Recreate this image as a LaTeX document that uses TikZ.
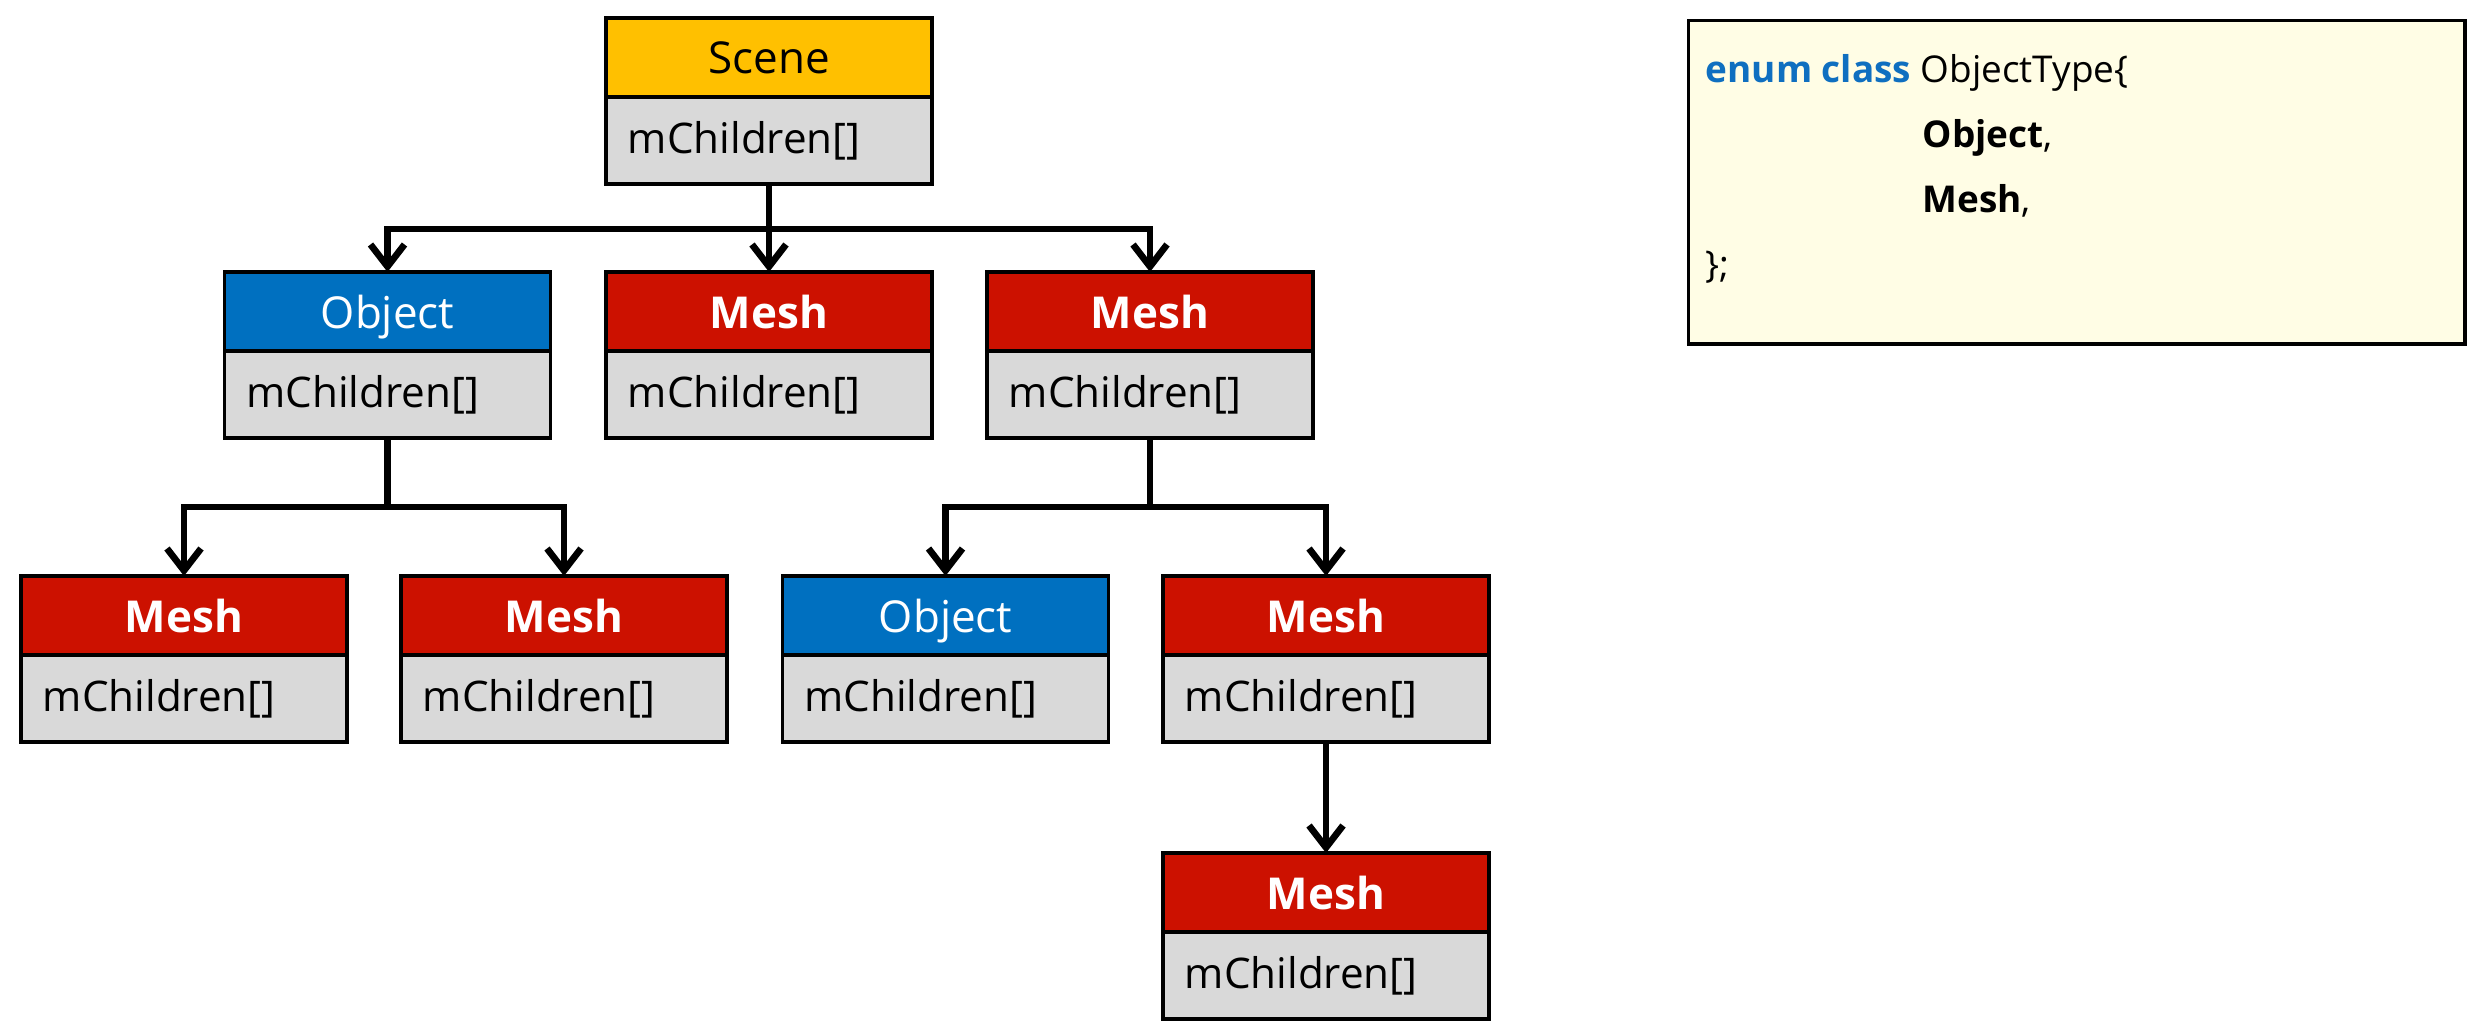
\documentclass[tikz,border=0pt]{standalone}
\usepackage{fontspec}
\setmainfont{Open Sans}
\usetikzlibrary{positioning,arrows.meta}

\definecolor{scenecol}{HTML}{FFC000}
\definecolor{objcol}{HTML}{0070C0}
\definecolor{meshcol}{HTML}{CC1100}
\definecolor{kidscol}{HTML}{D9D9D9}
\definecolor{notecol}{HTML}{FFFDE5}
\definecolor{keycol}{HTML}{0F6FC0}

\tikzset{
  head/.style={draw=black, line width=0.95pt, minimum width=3.26cm, minimum height=0.79cm,
    inner sep=0pt, outer sep=0pt, text depth=0pt, font=\fontsize{12.5}{15}\selectfont},
  scenehead/.style={head, fill=scenecol},
  objhead/.style={head, fill=objcol, text=white},
  meshhead/.style={head, fill=meshcol, text=white, font=\fontsize{12.5}{15}\selectfont\bfseries},
  kids/.style={draw=black, line width=0.95pt, fill=kidscol, text width=2.82cm, inner xsep=0.22cm,
    inner ysep=0pt, minimum height=0.87cm, align=left, outer sep=0pt, font=\fontsize{12}{14}\selectfont},
  link/.style={line width=1.9pt, -{Straight Barb[length=0.22cm,width=0.34cm]}},
  code/.style={anchor=base west, inner sep=0pt, font=\fontsize{10.5}{13}\selectfont},
}

\begin{document}
\begin{tikzpicture}[x=0.01cm, y=-0.01cm]
\useasboundingbox (0,0) rectangle (2470,1033);

% Root
\node[scenehead] (scene) at (769,57.5) {Scene};
\node[kids, below=0pt of scene] (scenekids) {mChildren[]};

% First level
\node[objhead] (obj1) at (387.5,311.5) {Object};
\node[kids, below=0pt of obj1] (obj1kids) {mChildren[]};

\node[meshhead] (mesh1) at (769,311.5) {Mesh};
\node[kids, below=0pt of mesh1] (mesh1kids) {mChildren[]};

\node[meshhead] (mesh2) at (1150,311.5) {Mesh};
\node[kids, below=0pt of mesh2] (mesh2kids) {mChildren[]};

% Second level
\node[meshhead] (mesh3) at (184,615.5) {Mesh};
\node[kids, below=0pt of mesh3] (mesh3kids) {mChildren[]};

\node[meshhead] (mesh4) at (564,615.5) {Mesh};
\node[kids, below=0pt of mesh4] (mesh4kids) {mChildren[]};

\node[objhead] (obj2) at (945.5,615.5) {Object};
\node[kids, below=0pt of obj2] (obj2kids) {mChildren[]};

\node[meshhead] (mesh5) at (1326,615.5) {Mesh};
\node[kids, below=0pt of mesh5] (mesh5kids) {mChildren[]};

% Third level
\node[meshhead] (mesh6) at (1326,892.5) {Mesh};
\node[kids, below=0pt of mesh6] (mesh6kids) {mChildren[]};

% Parent-child links
\draw[link] (scenekids.south) -- ++(0,45) -| (obj1.north);
\draw[link] (scenekids.south) -- (mesh1.north);
\draw[link] (scenekids.south) -- ++(0,45) -| (mesh2.north);

\draw[link] (obj1kids.south) -- ++(0,69) -| (mesh3.north);
\draw[link] (obj1kids.south) -- ++(0,69) -| (mesh4.north);

\draw[link] (mesh2kids.south) -- ++(0,69) -| (obj2.north);
\draw[link] (mesh2kids.south) -- ++(0,69) -| (mesh5.north);

\draw[link] (mesh5kids.south) -- (mesh6.north);

% Enum note
\node[draw=black, line width=0.95pt, fill=notecol, minimum width=7.76cm, minimum height=3.23cm,
  inner sep=0pt, anchor=north west] (enumbox) at (1687,19) {};
\node[code] (line1) at (1705,82) {\textcolor{keycol}{\bfseries enum class} ObjectType\{};
\node[code] (line2) at (1922,147) {\bfseries Object\mdseries,};
\node[code] (line3) at (1922,212) {\bfseries Mesh\mdseries,};
\node[code] (line4) at (1705,277) {\};};
\end{tikzpicture}
\end{document}
